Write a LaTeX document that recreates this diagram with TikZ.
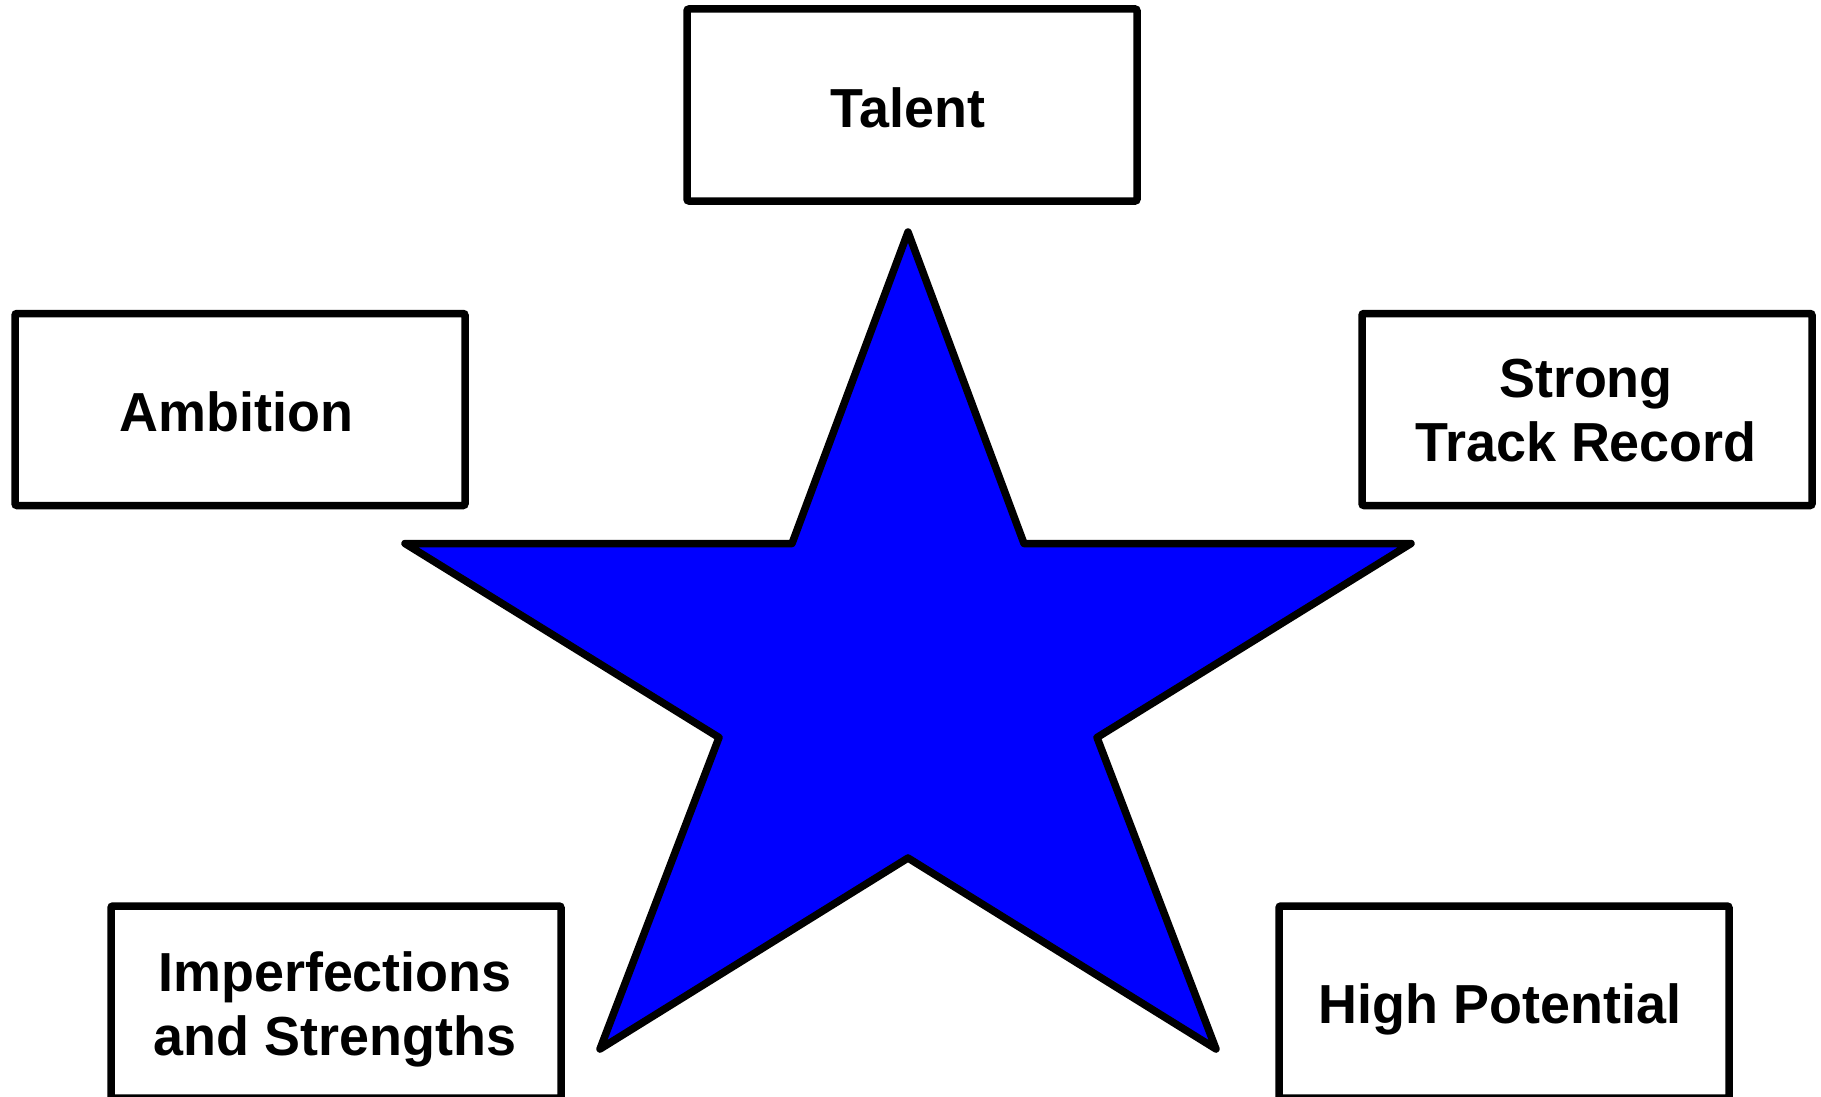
\documentclass[tikz,border=0pt]{standalone}
\usepackage{fontspec}
\setmainfont{Liberation Sans}[FakeStretch=0.98]
\definecolor{starblue}{RGB}{0,0,255}
\begin{document}
\begin{tikzpicture}[x=1pt,y=-1pt,
  box/.style={draw=black, line width=7.5pt, rounded corners=2pt, fill=white,
    minimum width=450pt, minimum height=192pt, inner sep=0pt},
  lbl/.style={font=\fontsize{55}{64}\selectfont\bfseries, align=center, inner sep=0pt},
  starshape/.style={draw=black, fill=starblue, line width=7.5pt, line join=round}]
\fill[white] (0,0) rectangle (1821,1097);
\useasboundingbox (0,0) rectangle (1821,1097);
\clip (0,0) rectangle (1821,1097);
% star
\draw[starshape] (908,232) -- (1024,543.5) -- (1411,543.5) -- (1097,737.5)
  -- (1216,1049) -- (908,858) -- (600,1049) -- (719,737.5) -- (405,543.5)
  -- (792,543.5) -- cycle;
% boxes
\node[box] (talent) at (912,105) {};
\node[box] (ambition) at (240,409.5) {};
\node[box] (strong) at (1587,409.5) {};
\node[box] (imperf) at (336,1002) {};
\node[box] (high) at (1504,1002) {};
% labels
\node[lbl, anchor=base] (talentT) at (908,128) {Talent};
\node[lbl, anchor=base] (ambitionT) at (236.5,431.7) {Ambition};
\node[lbl, anchor=north] (strongT) at (1586,358.5) {Strong\\Track Record};
\node[lbl, anchor=north] (imperfT) at (335,951) {Imperfections\\and Strengths};
\node[lbl, anchor=base] (highT) at (1500,1023.3) {High Potential};
\end{tikzpicture}
\end{document}
